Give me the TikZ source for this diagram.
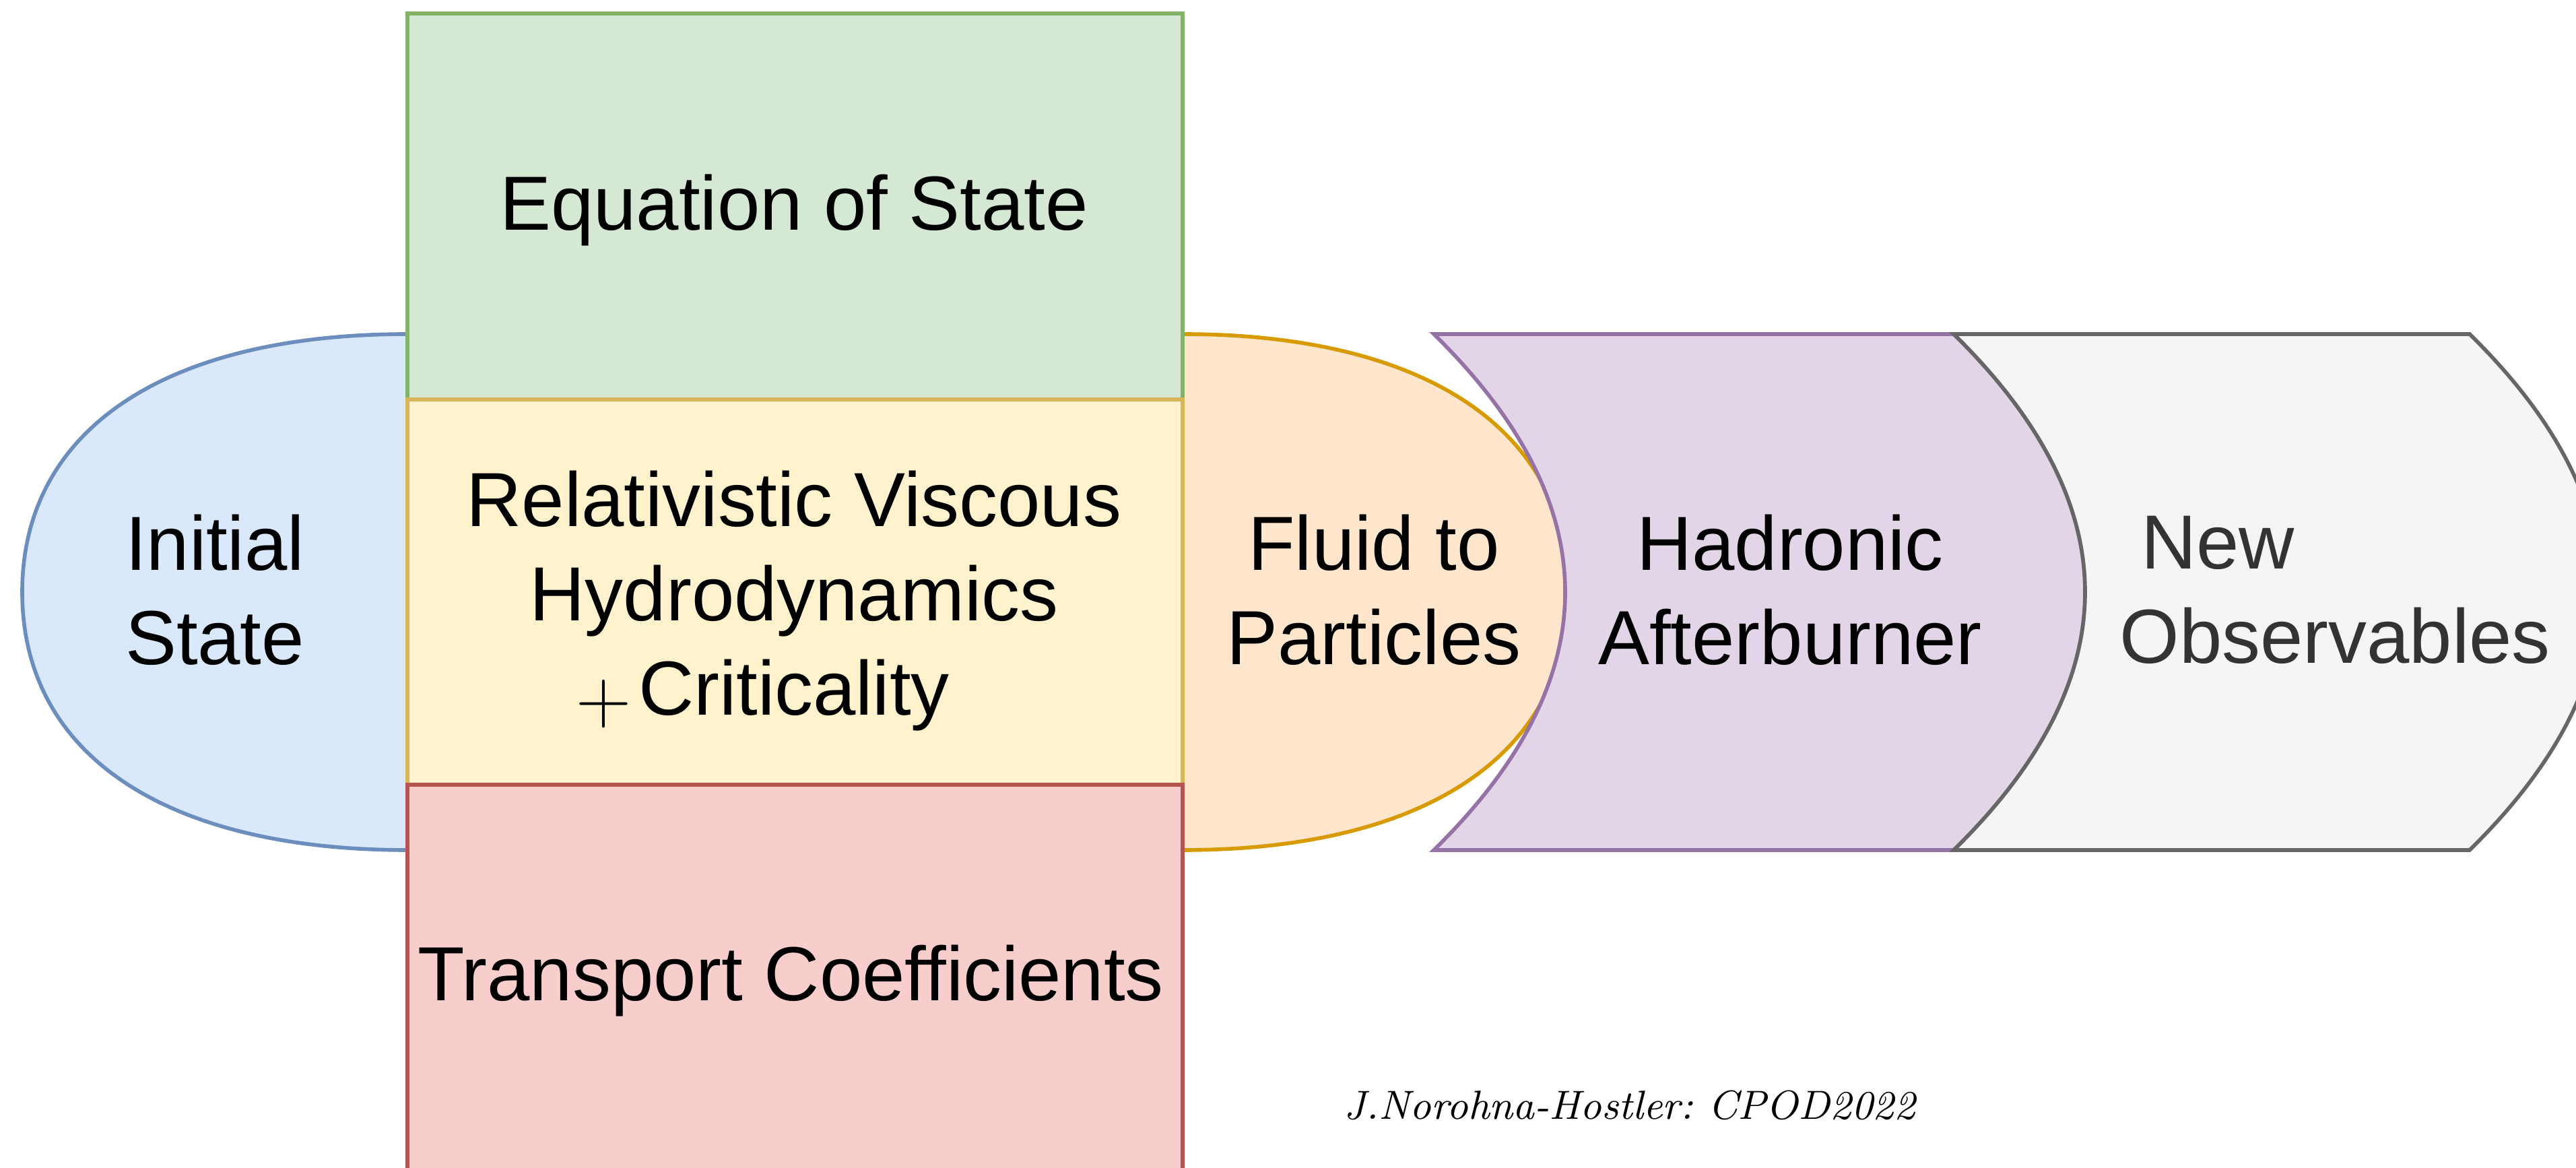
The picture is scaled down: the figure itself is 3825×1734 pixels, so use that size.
\documentclass[tikz,border=0pt]{standalone}
\usepackage{fontspec}
\usepackage{xcolor}
\newfontfamily\helv{Liberation Sans}
\definecolor{initfill}{HTML}{DAE8FC}
\definecolor{initline}{HTML}{6C8EBF}
\definecolor{eosfill}{HTML}{D5E8D4}
\definecolor{eosline}{HTML}{82B366}
\definecolor{hydrofill}{HTML}{FFF2CC}
\definecolor{hydroline}{HTML}{D6B656}
\definecolor{trfill}{HTML}{F8CECC}
\definecolor{trline}{HTML}{B85450}
\definecolor{fluidfill}{HTML}{FFE6CC}
\definecolor{fluidline}{HTML}{D79B00}
\definecolor{hadfill}{HTML}{E1D5E7}
\definecolor{hadline}{HTML}{9673A6}
\definecolor{obsfill}{HTML}{F5F5F5}
\definecolor{obsline}{HTML}{666666}
\definecolor{obstext}{HTML}{333333}

\begin{document}
\begin{tikzpicture}[x=0.05mm,y=-0.05mm,
        stage/.style={line width=0.8pt},
        lbl/.style={inner sep=0pt,align=center,font=\helv\fontsize{16.2}{19.9}\selectfont}]
    \useasboundingbox (0,0) rectangle (3825,1734);
    \clip (0,0) rectangle (3825,1734);

    \draw[stage,draw=initline,fill=initfill] (605,496) .. controls (245,496) and (33,638) .. (33,879)
        .. controls (33,1120) and (245,1262) .. (605,1262) -- cycle;
    \draw[stage,draw=fluidline,fill=fluidfill] (1756,496) .. controls (2116,496) and (2329,638) .. (2329,879)
        .. controls (2329,1120) and (2116,1262) .. (1756,1262) -- cycle;
    \draw[stage,draw=hadline,fill=hadfill] (2129,496) -- (2901,496) .. controls (3161,751) and (3161,1007) .. (2901,1262)
        -- (2129,1262) .. controls (2389,1007) and (2389,751) .. cycle;
    \draw[stage,draw=obsline,fill=obsfill] (2901,496) -- (3667,496) .. controls (3927,751) and (3927,1007) .. (3667,1262)
        -- (2901,1262) .. controls (3161,1007) and (3161,751) .. cycle;

    \draw[stage,draw=eosline,fill=eosfill] (605,20) rectangle (1756,593);
    \draw[stage,draw=hydroline,fill=hydrofill] (605,593) rectangle (1756,1165);
    \draw[stage,draw=trline,fill=trfill] (605,1165) rectangle (1756,1800);

    \node[lbl] (init) at (319,876) {Initial\\State};
    \node[lbl] (eos) at (1179,312) {Equation of State};
    \node[lbl] (hydro) at (1179,892) {Relativistic Viscous\\Hydrodynamics\\Criticality};
    \node[inner sep=0pt,font=\fontsize{16.2}{19.9}\selectfont] (plus) at (896,1045) {+};
    \node[lbl] (transport) at (1174,1456) {Transport Coefficients};
    \node[lbl] (fluid) at (2040,876) {Fluid to\\Particles};
    \node[lbl] (hadron) at (2658,876) {Hadronic\\Afterburner};
    \node[lbl,align=left,anchor=west,text=obstext] (newobs) at (3146,876) {\hspace*{.28em}New\\Observables};

    \node[inner sep=0pt,font=\itshape\fontsize{8.6}{10}\selectfont] (credit) at (2420,1641) {\frenchspacing J.Norohna-Hostler: CPOD2022};
\end{tikzpicture}
\end{document}
